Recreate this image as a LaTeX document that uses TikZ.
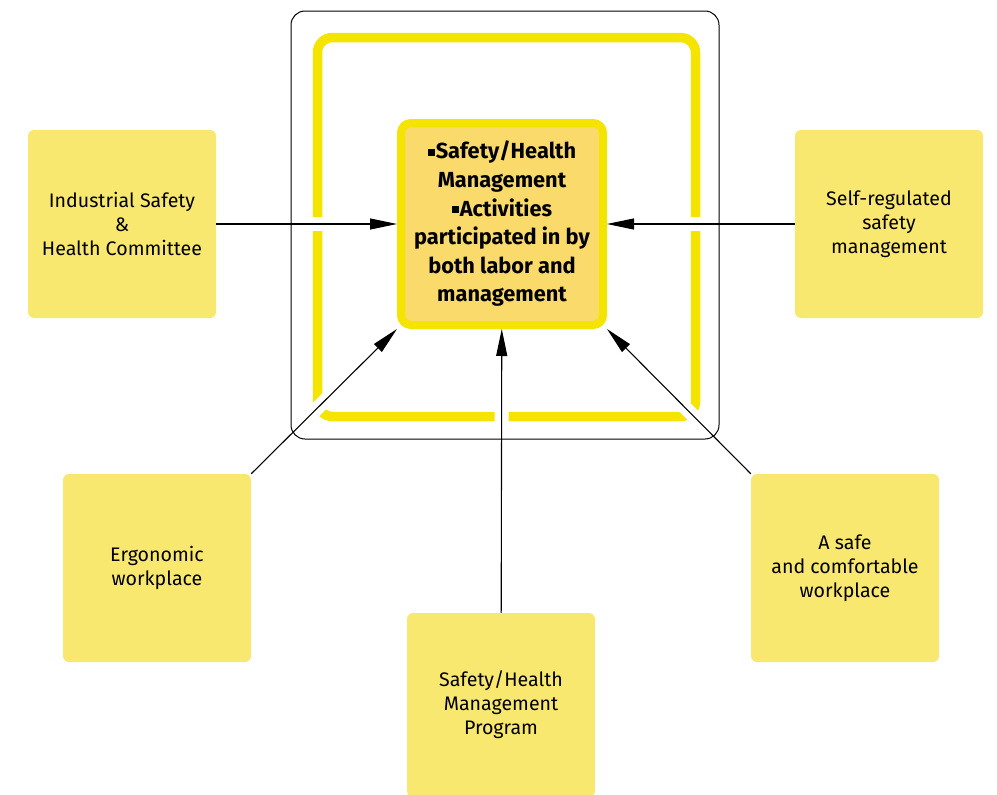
\documentclass[tikz,border=0pt]{standalone}
\usepackage{fontspec}
\setmainfont{Fira Sans}
\usetikzlibrary{arrows.meta}
\pgfdeclarelayer{frame}
\pgfdeclarelayer{halo}
\pgfsetlayers{frame,halo,main}
\definecolor{boxyellow}{RGB}{249,232,112}
\definecolor{coreyellow}{RGB}{250,218,106}
\definecolor{rimyellow}{RGB}{245,228,0}
\newcommand{\sqbul}{\rule[3pt]{7pt}{7pt}\hspace{1pt}}

\begin{document}
\begin{tikzpicture}[x=1pt,y=-1pt,
  every node/.style={font=\fontsize{19.6}{24}\selectfont},
  sidebox/.style={fill=boxyellow,rounded corners=6pt,minimum width=188pt,minimum height=188pt,inner sep=0pt,align=center},
  corebox/.style={draw=rimyellow,line width=8pt,fill=coreyellow,rounded corners=10pt,minimum width=202pt,minimum height=202pt,inner sep=0pt,align=center,font=\fontsize{21.8}{28.6}\selectfont\bfseries},
  feed/.style={-{Triangle[length=27pt,width=11pt]},line width=1.1pt},
  gap/.style={white,line width=14pt}]
  \clip (0,0) rectangle (997,795);
  % frames round the core
  \begin{pgfonlayer}{frame}
    \draw[rimyellow,line width=9.5pt,rounded corners=15pt] (317.5,37.5) rectangle (695.5,416.5);
  \end{pgfonlayer}
  \draw[rounded corners=14pt,line width=1pt] (291,11) rectangle (719,439);

  \node[corebox] (core) at (502,224) {\sqbul Safety/Health\\Management\\\sqbul Activities\\participated in by\\both labor and\\management};

  \node[sidebox] (ind) at (122,224) {Industrial Safety\\\&\\Health Committee};
  \node[sidebox] (self) at (889,224) {Self-regulated\\safety\\management};
  \node[sidebox] (ergo) at (157,568) {Ergonomic\\workplace};
  \node[sidebox] (safe) at (845,568) {A safe\\and comfortable\\workplace};
  \node[sidebox,minimum height=184pt] (prog) at (501,705) {Safety/Health\\Management\\Program};

  % gaps in the yellow frame
  \begin{pgfonlayer}{halo}
    \draw[gap] (ind) -- (core);
    \draw[gap] (self) -- (core);
    \draw[gap] (prog) -- (core);
    \draw[gap] (ergo.north east) -- (core.south west);
    \draw[gap] (safe.north west) -- (core.south east);
  \end{pgfonlayer}

  \draw[feed] (ind) -- (core);
  \draw[feed] (self) -- (core);
  \draw[feed] (prog) -- (core);
  \draw[feed] (ergo.north east) -- (core.south west);
  \draw[feed] (safe.north west) -- (core.south east);
\end{tikzpicture}
\end{document}
